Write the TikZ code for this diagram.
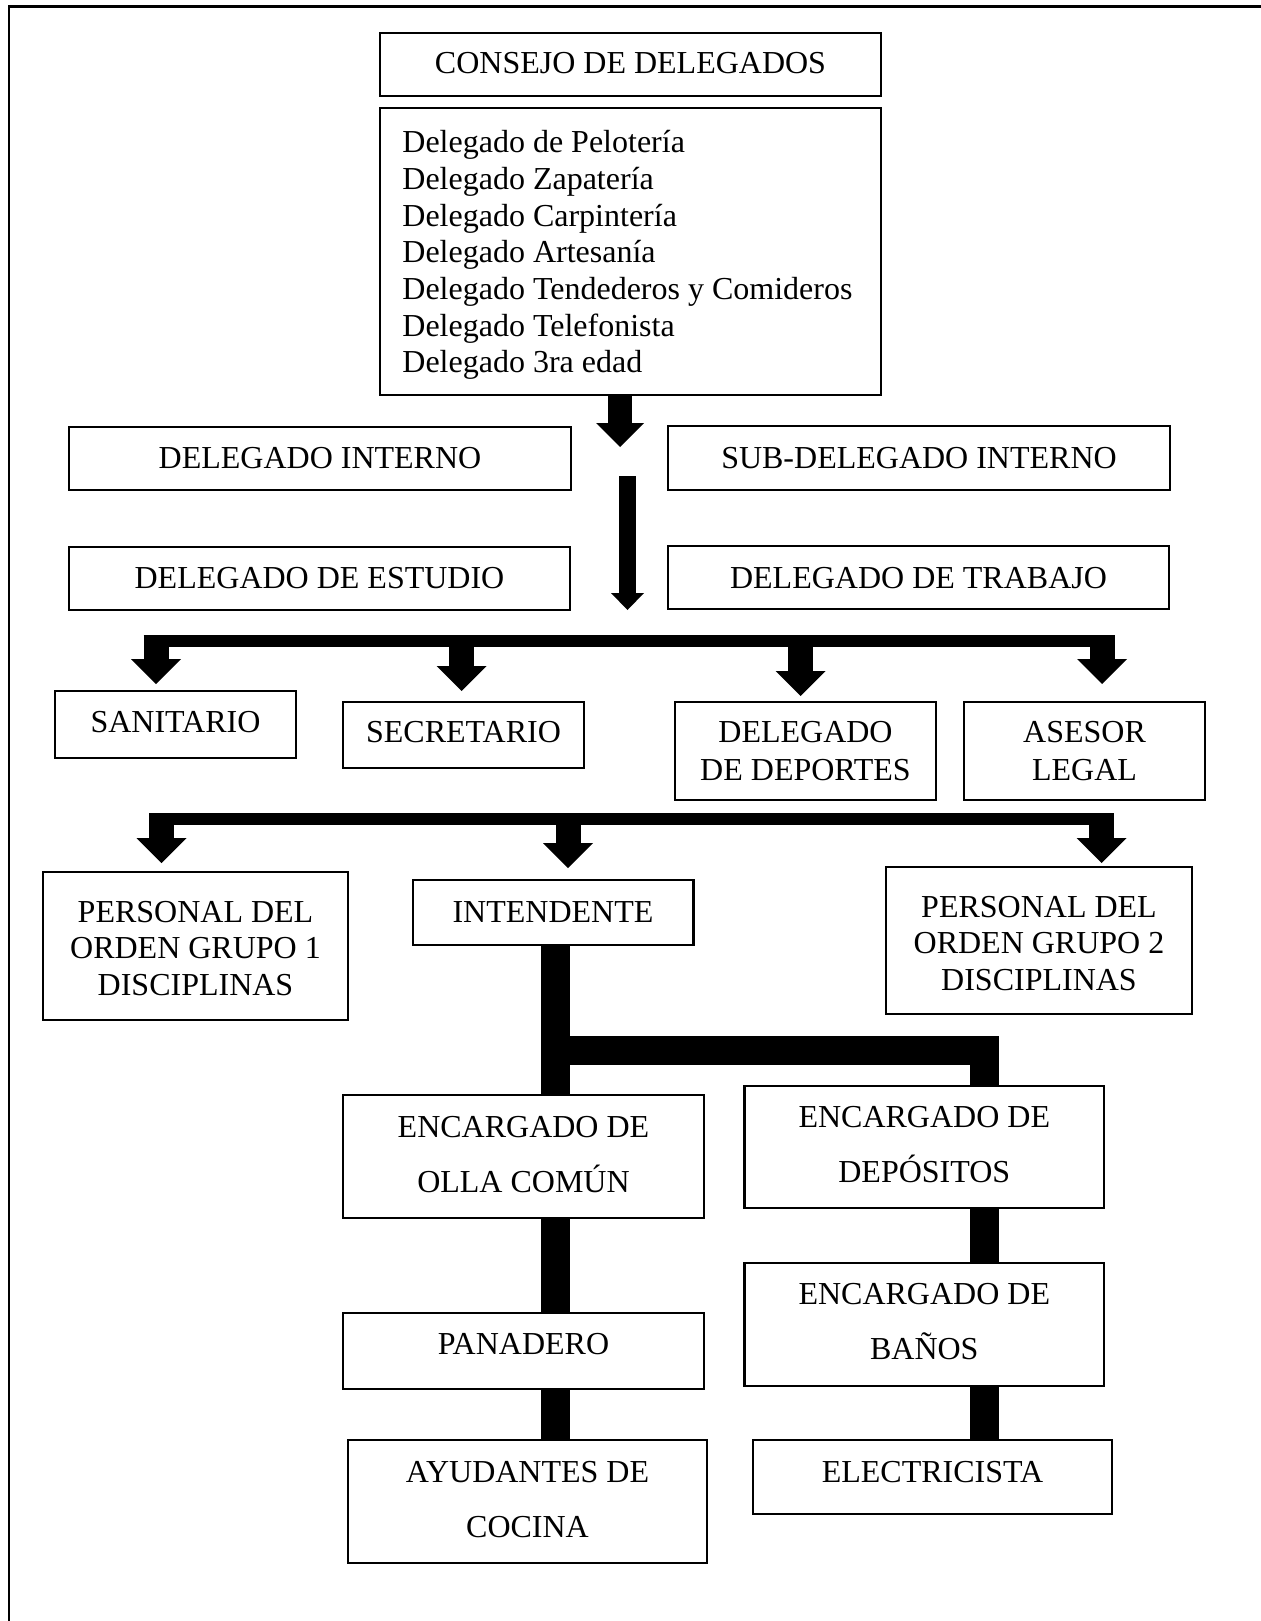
\documentclass[tikz,border=0pt]{standalone}
\usepackage{fontspec}
\setmainfont{Liberation Serif}
\usetikzlibrary{arrows.meta}
\newcommand{\orgbox}[5]{\node[orgframe, minimum width={(#3-#2)*0.5pt}, minimum height={(#5-#4)*0.5pt}] (#1) at ({(#2+#3)/2},{(#4+#5)/2}) {};}
\begin{document}
\begin{tikzpicture}[x=0.5pt,y=-0.5pt,
  orgframe/.style={draw, line width=1.2pt, inner sep=0pt, outer sep=0pt},
  txt/.style={font=\fontsize{16}{18.35}\selectfont, inner sep=0pt, anchor=base},
  ltxt/.style={font=\fontsize{16}{18.35}\selectfont, inner sep=0pt, anchor=base west},
  heavy/.style={line width=14.5pt},
  bigarrow/.style={line width=12.5pt, -{Triangle[width=25pt,length=12.5pt,line width=0pt]}},
  toparrow/.style={line width=12pt, -{Triangle[width=24pt,length=12pt,line width=0pt]}},
  thinarrow/.style={line width=8.5pt, -{Triangle[width=16.5pt,length=8.5pt,line width=0pt]}},
  bar/.style={line width=6pt}
]
\useasboundingbox (0,0) rectangle (1261,1621);
% outer frame (cropped)
\draw[line width=1.2pt] (9,1625) -- (9,6.7) -- (1265,6.7);

% boxes
\orgbox{cons}{380}{881}{33}{96}
\orgbox{list}{380}{881}{108}{395}
\orgbox{dint}{69}{571}{427}{490}
\orgbox{sdint}{668}{1170}{426}{490}
\orgbox{dest}{69}{570}{547}{610}
\orgbox{dtrab}{668}{1169}{546}{609}
\orgbox{san}{55}{296}{691}{758}
\orgbox{sec}{343}{584}{702}{768}
\orgbox{ddep}{675}{936}{702}{800}
\orgbox{ases}{964}{1205}{702}{800}
\orgbox{pg1}{43}{348}{872}{1020}
\orgbox{int}{413}{693.5}{880}{945}
\orgbox{pg2}{886}{1192}{867}{1014}
\orgbox{olla}{343}{704}{1095}{1218}
\orgbox{dep}{744.5}{1104}{1086}{1208}
\orgbox{pan}{343}{704}{1313}{1389}
\orgbox{ayu}{348}{707}{1440}{1563}
\orgbox{bano}{744.5}{1104}{1263}{1386}
\orgbox{elec}{753}{1112}{1440}{1514}

% texts
\node[txt] (cons-t) at (630.5,74) {CONSEJO DE DELEGADOS};
\node[ltxt] (l1) at (402,152.7) {Delegado de Pelotería};
\node[ltxt] (l2) at (402,189.4) {Delegado Zapatería};
\node[ltxt] (l3) at (402,226.1) {Delegado Carpintería};
\node[ltxt] (l4) at (402,262.8) {Delegado Artesanía};
\node[ltxt] (l5) at (402,299.5) {Delegado Tendederos y Comideros};
\node[ltxt] (l6) at (402,336.2) {Delegado Telefonista};
\node[ltxt] (l7) at (402,372.9) {Delegado 3ra edad};
\node[txt] (dint-t) at (320,468) {DELEGADO INTERNO};
\node[txt] (sdint-t) at (919,468) {SUB-DELEGADO INTERNO};
\node[txt] (dest-t) at (319.5,588) {DELEGADO DE ESTUDIO};
\node[txt] (dtrab-t) at (918.5,588) {DELEGADO DE TRABAJO};
\node[txt] (san-t) at (175.5,732) {SANITARIO};
\node[txt] (sec-t) at (463.5,742) {SECRETARIO};
\node[txt] (ddep-t1) at (805.5,742) {DELEGADO};
\node[txt] (ddep-t2) at (805.5,780) {DE DEPORTES};
\node[txt] (ases-t1) at (1084.5,742) {ASESOR};
\node[txt] (ases-t2) at (1084.5,780) {LEGAL};
\node[txt] (pg1-t1) at (195.5,922) {PERSONAL DEL};
\node[txt] (pg1-t2) at (195.5,958.5) {ORDEN GRUPO 1};
\node[txt] (pg1-t3) at (195.5,995) {DISCIPLINAS};
\node[txt] (int-t) at (553,922) {INTENDENTE};
\node[txt] (pg2-t1) at (1039,917) {PERSONAL DEL};
\node[txt] (pg2-t2) at (1039,953.5) {ORDEN GRUPO 2};
\node[txt] (pg2-t3) at (1039,990) {DISCIPLINAS};
\node[txt] (olla-t1) at (523.5,1137) {ENCARGADO DE};
\node[txt] (olla-t2) at (523.5,1192) {OLLA COMÚN};
\node[txt] (dep-t1) at (924.3,1127) {ENCARGADO DE};
\node[txt] (dep-t2) at (924.3,1182) {DEPÓSITOS};
\node[txt] (pan-t) at (523.5,1354) {PANADERO};
\node[txt] (ayu-t1) at (527.5,1482) {AYUDANTES DE};
\node[txt] (ayu-t2) at (527.5,1537) {COCINA};
\node[txt] (bano-t1) at (924.3,1304) {ENCARGADO DE};
\node[txt] (bano-t2) at (924.3,1359) {BAÑOS};
\node[txt] (elec-t) at (932.5,1482) {ELECTRICISTA};

% top arrows
\coordinate (a1t) at (620,447);
\draw[toparrow] (list.south -| a1t) -- (a1t);
\coordinate (a2s) at (627.5,476);
\coordinate (a2t) at (627.5,610);
\draw[thinarrow] (a2s) -- (a2t);

% first distribution bar
\coordinate (b1L) at (143.5,641);
\coordinate (b1R) at (1114.5,641);
\draw[bar] (b1L) -- (b1R);
\coordinate (t1) at (156,684);
\coordinate (t2) at (461.5,691);
\coordinate (t3) at (800.5,696);
\coordinate (t4) at (1102,684);
\foreach \t in {t1,t2,t3,t4} \draw[bigarrow] (b1L -| \t) -- (\t);

% second distribution bar
\coordinate (b2L) at (149,819);
\coordinate (b2R) at (1114,819);
\draw[bar] (b2L) -- (b2R);
\coordinate (u1) at (161.5,863);
\coordinate (u2) at (568,868);
\coordinate (u3) at (1101.5,863);
\foreach \t in {u1,u2,u3} \draw[bigarrow] (b2L -| \t) -- (\t);

% lower structure
\coordinate (trunk) at (555.5,1050.5);
\coordinate (trunkR) at (984,1050.5);
\draw[heavy] (int.south -| trunk) -- (olla.north -| trunk);
\draw[heavy, line join=miter] (trunk) -- (trunkR) -- (dep.north -| trunkR);
\draw[heavy] (olla.south -| trunk) -- (pan.north -| trunk);
\draw[heavy] (pan.south -| trunk) -- (ayu.north -| trunk);
\draw[heavy] (dep.south -| trunkR) -- (bano.north -| trunkR);
\draw[heavy] (bano.south -| trunkR) -- (elec.north -| trunkR);
\end{tikzpicture}
\end{document}
